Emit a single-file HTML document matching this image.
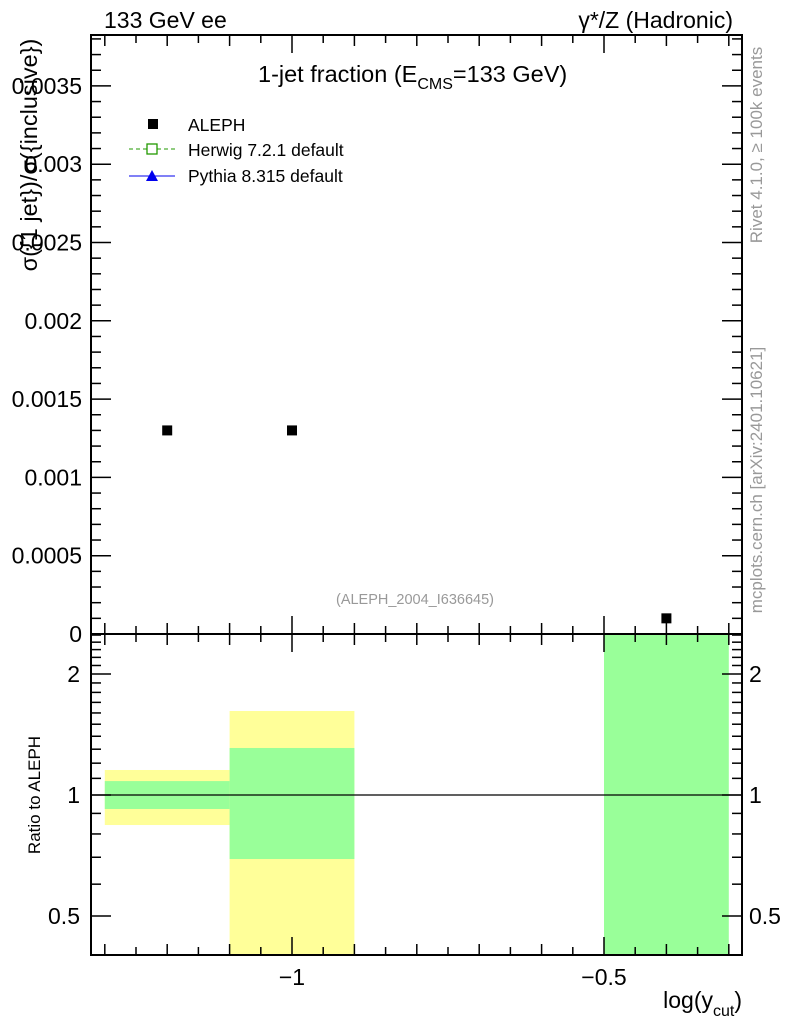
<!DOCTYPE html>
<html><head><meta charset="utf-8"><style>
body{margin:0;background:#fff;}
svg{display:block;font-family:"Liberation Sans",sans-serif;}
</style></head><body>
<svg id="c" width="786" height="1024" xmlns="http://www.w3.org/2000/svg"></svg>
<script>
const xCenters=[-1.2,-1.0,-0.4];
const xLo=[-1.3,-1.1,-0.5];
const xHi=[-1.1,-0.9,-0.3];
const alephVals=[0.0013,0.0013,0.0001];
const yellowLo=[0.842,0.3,0.3];
const yellowHi=[1.154,1.618,0.3];
const greenLo=[0.923,0.693,0.3];
const greenHi=[1.083,1.309,3.0];
const yTicks=[0,0.0005,0.001,0.0015,0.002,0.0025,0.003,0.0035];
const yTickLabels=["0","0.0005","0.001","0.0015","0.002","0.0025","0.003","0.0035"];
const rTicks=[0.5,1,2];
const rTickLabels=["0.5","1","2"];
const xTicks=[-1,-0.5];
const xTickLabels=["\u22121","\u22120.5"];

const NS="http://www.w3.org/2000/svg";
const svg=document.getElementById('c');
const L=91,R=742,T=35,M=634,B=955;
const X=v=>292+(v+1)*624;
const Y=v=>634-v*156600;
const RY=v=>795-Math.log2(v)*121;
const clampR=v=>Math.max(M,Math.min(B,RY(v)));
function el(t,a,txt){const e=document.createElementNS(NS,t);for(const k in a)e.setAttribute(k,a[k]);if(txt!==undefined)e.textContent=txt;svg.appendChild(e);return e;}

for(let i=0;i<xCenters.length;i++){
  if(yellowHi[i]>yellowLo[i]){
    const y1=clampR(yellowHi[i]),y2=clampR(yellowLo[i]);
    const r=el('rect',{x:X(xLo[i]),y:y1,width:X(xHi[i])-X(xLo[i]),height:y2-y1,fill:'#ffff99'});
    
    
  }
  const g1=clampR(greenHi[i]),g2=clampR(greenLo[i]);
  const g=el('rect',{x:X(xLo[i]),y:g1,width:X(xHi[i])-X(xLo[i]),height:g2-g1,fill:'#99ff99'});
  
  
}
const one=el('line',{x1:L,x2:R,y1:RY(1),y2:RY(1),stroke:'#000','stroke-width':1.2});



const f1=el('rect',{x:L,y:T,width:R-L,height:M-T,fill:'none',stroke:'#000','stroke-width':2});


const f2=el('rect',{x:L,y:M,width:R-L,height:B-M,fill:'none',stroke:'#000','stroke-width':2});



for(let k=-26;k<=-6;k++){
  const v=k*0.05;const x=X(v);
  const major=Math.abs(v*2-Math.round(v*2))<1e-6;
  const len=major?18:(k%2===0?11:8);
  [[T,1],[M,-1],[M,1],[B,-1]].forEach(([y0,d])=>el('line',{x1:x,x2:x,y1:y0,y2:y0+d*len,stroke:'#000','stroke-width':1.5}));
}
xTicks.forEach((v,i)=>{const t=el('text',{x:X(v),y:985,'font-size':23,'text-anchor':'middle'},xTickLabels[i]);
});

for(let k=0;k<=38;k++){const v=k*0.0001;const y=Y(v);if(y<T)break;const len=k%5===0?20:10;
  el('line',{x1:L,x2:L+len,y1:y,y2:y,stroke:'#000','stroke-width':1.5});
  el('line',{x1:R,x2:R-len,y1:y,y2:y,stroke:'#000','stroke-width':1.5});}
yTicks.forEach((v,i)=>{const t=el('text',{x:82,y:Y(v)+8,'font-size':23,'text-anchor':'end'},yTickLabels[i]);
});

const rmin=[0.4,0.5,0.6,0.7,0.8,0.9,1,1.1,1.2,1.3,1.4,1.5,1.6,1.7,1.8,1.9,2,2.1,2.2,2.3,2.4,2.5];
rmin.forEach(v=>{const y=RY(v);if(y<M||y>B)return;const len=rTicks.includes(v)?20:10;
  el('line',{x1:L,x2:L+len,y1:y,y2:y,stroke:'#000','stroke-width':1.5});
  el('line',{x1:R,x2:R-len,y1:y,y2:y,stroke:'#000','stroke-width':1.5});});
rTicks.forEach((v,i)=>{
  const t=el('text',{x:80,y:RY(v)+8,'font-size':23,'text-anchor':'end'},rTickLabels[i]);
  
  const t2=el('text',{x:749,y:RY(v)+8,'font-size':23,'text-anchor':'start'},rTickLabels[i]);
  
});

for(let i=0;i<xCenters.length;i++){
  const p=el('rect',{x:X(xCenters[i])-5,y:Y(alephVals[i])-5,width:10,height:10,fill:'#000'});
  
  
}
</script>
<svg width="786" height="1024" style="position:absolute;left:0;top:0" xmlns="http://www.w3.org/2000/svg" font-family="Liberation Sans, sans-serif">
<text x="104" y="28" font-size="23">133 GeV ee</text>
<text x="733" y="28" font-size="23" text-anchor="end">γ*/Z (Hadronic)</text>
<text x="258" y="82" font-size="23.5">1-jet fraction (E<tspan font-size="16" dy="7">CMS</tspan><tspan dy="-7">=133 GeV)</tspan></text>
<rect x="148" y="119" width="10" height="10" fill="#000"/>
<text x="188" y="131" font-size="17.5">ALEPH</text>
<line x1="129" x2="175" y1="149" y2="149" stroke="#229900" stroke-dasharray="4,3"/>
<rect x="147" y="144" width="10" height="10" fill="#fff" stroke="#229900" stroke-width="1.3"/>
<text x="188" y="156" font-size="17.5">Herwig 7.2.1 default</text>
<line x1="129" x2="175" y1="176" y2="176" stroke="#0000ee"/>
<polygon points="152,170 146,181 158,181" fill="#0000ee"/>
<text x="188" y="182" font-size="17.5">Pythia 8.315 default</text>
<text x="415" y="604" font-size="14.5" fill="#999" text-anchor="middle">(ALEPH_2004_I636645)</text>
<text transform="translate(37,155) rotate(-90)" font-size="23.5" text-anchor="middle">σ({1 jet})/σ({inclusive})</text>
<text transform="translate(40,795) rotate(-90)" font-size="17" text-anchor="middle">Ratio to ALEPH</text>
<text x="742" y="1008" font-size="23" text-anchor="end">log(y<tspan font-size="16" dy="8">cut</tspan><tspan dy="-8">)</tspan></text>
<text transform="translate(762,145) rotate(-90)" font-size="17" fill="#999" text-anchor="middle">Rivet 4.1.0, ≥ 100k events</text>
<text transform="translate(762,480) rotate(-90)" font-size="17" fill="#999" text-anchor="middle">mcplots.cern.ch [arXiv:2401.10621]</text>
</svg>
</body></html>
